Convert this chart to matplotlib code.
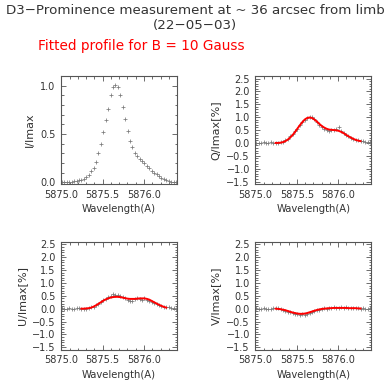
import matplotlib
matplotlib.use("Agg")
import matplotlib.pyplot as plt
from matplotlib.ticker import MultipleLocator

# ---------------------------------------------------------------------------
# Data
# ---------------------------------------------------------------------------

wavelength = [
    5875.010, 5875.039, 5875.069, 5875.098, 5875.127, 5875.157, 5875.186, 5875.215,
    5875.244, 5875.274, 5875.303, 5875.332, 5875.362, 5875.391, 5875.420, 5875.450,
    5875.479, 5875.508, 5875.537, 5875.567, 5875.596, 5875.625, 5875.655, 5875.684,
    5875.713, 5875.743, 5875.772, 5875.801, 5875.830, 5875.860, 5875.889, 5875.918,
    5875.948, 5875.977, 5876.006, 5876.036, 5876.065, 5876.094, 5876.123, 5876.153,
    5876.182, 5876.211, 5876.240, 5876.270, 5876.299, 5876.328, 5876.358, 5876.387,
]

stokes_i = [
    0.000, 0.000, 0.000, 0.005, 0.005, 0.010, 0.012, 0.018,
    0.025, 0.035, 0.050, 0.078, 0.112, 0.150, 0.210, 0.300,
    0.400, 0.520, 0.640, 0.760, 0.900, 0.990, 1.010, 0.990,
    0.900, 0.780, 0.650, 0.530, 0.430, 0.360, 0.300, 0.270,
    0.245, 0.220, 0.195, 0.170, 0.145, 0.120, 0.100, 0.080,
    0.060, 0.045, 0.030, 0.018, 0.010, 0.005, 0.003, 0.000,
]

stokes_q = [
    0.01, -0.01, 0.00, 0.02, -0.01, 0.01, 0.02, 0.00,
    0.01, 0.00, 0.02, 0.05, 0.10, 0.17, 0.25, 0.33,
    0.45, 0.56, 0.68, 0.80, 0.90, 0.96, 1.02, 1.00,
    0.92, 0.80, 0.70, 0.62, 0.55, 0.50, 0.47, 0.50,
    0.52, 0.53, 0.60, 0.45, 0.38, 0.32, 0.25, 0.20,
    0.15, 0.12, 0.10, 0.08, 0.06, 0.05, 0.04, 0.03,
]

stokes_u = [
    0.02, 0.00, -0.02, 0.01, -0.03, 0.00, 0.02, 0.03,
    -0.02, 0.00, -0.01, 0.01, 0.05, 0.08, 0.14, 0.20,
    0.25, 0.33, 0.38, 0.45, 0.50, 0.58, 0.55, 0.52,
    0.50, 0.45, 0.40, 0.33, 0.28, 0.30, 0.36, 0.40,
    0.38, 0.35, 0.40, 0.33, 0.30, 0.27, 0.22, 0.19,
    0.14, 0.10, 0.07, 0.05, 0.06, 0.03, 0.02, -0.02,
]

stokes_v = [
    0.01, -0.02, 0.00, 0.02, -0.01, 0.00, -0.02, 0.03,
    0.03, 0.02, -0.01, -0.05, -0.08, -0.12, -0.13, -0.15,
    -0.19, -0.21, -0.23, -0.22, -0.24, -0.20, -0.17, -0.12,
    -0.10, -0.06, -0.04, -0.02, 0.01, 0.00, 0.03, 0.02,
    0.05, 0.04, 0.02, 0.06, 0.04, 0.05, 0.03, 0.04,
    0.01, 0.03, 0.02, 0.00, 0.01, -0.02, 0.00, 0.02,
]

# fitted profiles cover wavelength[8:44]
fit_wavelength = wavelength[8:44]

fit_q = [
    0.00, 0.00, 0.01, 0.03, 0.07, 0.13, 0.21, 0.31,
    0.43, 0.56, 0.69, 0.81, 0.91, 0.97, 0.99, 0.97,
    0.91, 0.83, 0.74, 0.66, 0.60, 0.55, 0.52, 0.51,
    0.50, 0.49, 0.47, 0.43, 0.38, 0.32, 0.26, 0.21,
    0.16, 0.12, 0.09, 0.07,
]

fit_u = [
    0.00, 0.00, 0.01, 0.02, 0.04, 0.08, 0.13, 0.19,
    0.25, 0.31, 0.36, 0.40, 0.43, 0.45, 0.46, 0.46,
    0.45, 0.43, 0.41, 0.39, 0.38, 0.38, 0.38, 0.39,
    0.40, 0.40, 0.40, 0.38, 0.35, 0.30, 0.25, 0.20,
    0.15, 0.11, 0.07, 0.04,
]

fit_v = [
    0.00, -0.01, -0.02, -0.04, -0.06, -0.09, -0.12, -0.15,
    -0.17, -0.19, -0.20, -0.20, -0.19, -0.17, -0.14, -0.11,
    -0.08, -0.05, -0.03, -0.01, 0.00, 0.01, 0.02, 0.02,
    0.03, 0.03, 0.03, 0.03, 0.03, 0.03, 0.02, 0.02,
    0.02, 0.02, 0.01, 0.01,
]

x_ticks = [5875.0, 5875.5, 5876.0]
x_tick_labels = ["5875.0", "5875.5", "5876.0"]

# ---------------------------------------------------------------------------
# Styling helpers
# ---------------------------------------------------------------------------

FRAME = "#555555"
TEXT = "#333333"
POINT = "#7a7a7a"


def _style_axes(ax, ylabel, ylim, ymajor):
    ax.set_xlim(5875.0, 5876.4)
    ax.set_ylim(*ylim)
    ax.set_xticks(x_ticks)
    ax.set_xticklabels(x_tick_labels)
    ax.xaxis.set_minor_locator(MultipleLocator(0.1))
    ax.yaxis.set_major_locator(MultipleLocator(ymajor))
    ax.yaxis.set_minor_locator(MultipleLocator(0.1))
    ax.tick_params(which="both", direction="in", top=True, right=True,
                   color=FRAME, width=0.6, labelsize=7, labelcolor=TEXT)
    ax.tick_params(which="major", length=3.5, pad=4)
    ax.tick_params(which="minor", length=1.8)
    for sp in ax.spines.values():
        sp.set_color(FRAME)
        sp.set_linewidth(0.8)
    ax.set_xlabel("Wavelength(A)", fontsize=7.2, color=TEXT, labelpad=3)
    ax.set_ylabel(ylabel, fontsize=8, color=TEXT, labelpad=4)


def _points(ax, y):
    ax.plot(wavelength, y, ls="none", marker="+", ms=2.4, mew=0.55, color=POINT)


# ---------------------------------------------------------------------------
# Figure
# ---------------------------------------------------------------------------

fig = plt.figure(figsize=(3.9, 3.9), dpi=100)

fig.text(0.5, 0.973, "D3\u2212Prominence measurement at ~ 36 arcsec from limb",
         ha="center", va="center", fontsize=9.6, color=TEXT)
fig.text(0.5, 0.935, "(22\u221205\u221203)", ha="center", va="center",
         fontsize=9.6, color=TEXT)
fig.text(0.098, 0.882, "Fitted profile for B = 10 Gauss", ha="left",
         va="center", fontsize=9.8, color="red")

left_col, right_col = 0.157, 0.655
top_row, bottom_row = 0.528, 0.103
width, height = 0.297, 0.277

ax_i = fig.add_axes([left_col, top_row, width, height])
_points(ax_i, stokes_i)
_style_axes(ax_i, "I/Imax", (-0.02, 1.1), 0.5)

ax_q = fig.add_axes([right_col, top_row, width, height])
_points(ax_q, stokes_q)
ax_q.plot(fit_wavelength, fit_q, color="red", lw=1.4)
_style_axes(ax_q, "Q/Imax[%]", (-1.6, 2.6), 0.5)

ax_u = fig.add_axes([left_col, bottom_row, width, height])
_points(ax_u, stokes_u)
ax_u.plot(fit_wavelength, fit_u, color="red", lw=1.4)
_style_axes(ax_u, "U/Imax[%]", (-1.6, 2.6), 0.5)

ax_v = fig.add_axes([right_col, bottom_row, width, height])
_points(ax_v, stokes_v)
ax_v.plot(fit_wavelength, fit_v, color="red", lw=1.4)
_style_axes(ax_v, "V/Imax[%]", (-1.6, 2.6), 0.5)

fig.savefig("out.png", dpi=100)
plt.close(fig)
